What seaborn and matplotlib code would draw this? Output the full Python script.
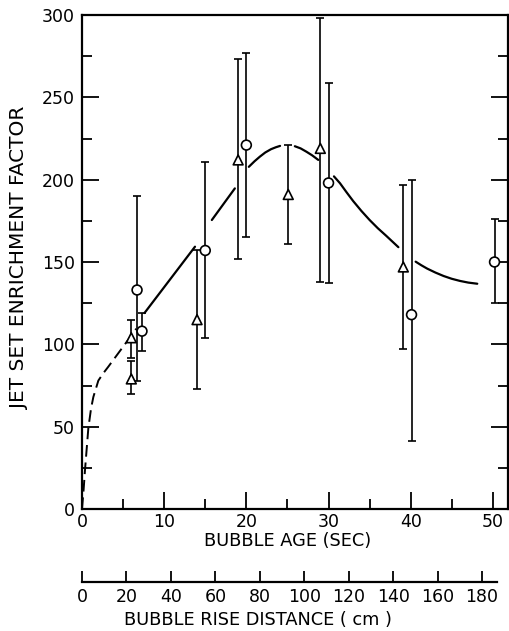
import numpy as np
import pandas as pd
import matplotlib
matplotlib.use("Agg")
import matplotlib.pyplot as plt
import seaborn as sns

# --- data ---
# triangles
tri_age = [6.0, 6.0, 14.0, 19.0, 25.1, 29.0, 39.1]
tri_val = [104, 79, 115, 212, 191, 219, 147]
tri_lo = [92, 70, 73, 152, 161, 138, 97]
tri_hi = [115, 90, 157, 273, 221, 298, 197]

# circles
circ_age = [6.7, 7.3, 15.0, 20.0, 30.0, 40.1, 50.2]
circ_val = [133, 108, 157, 221, 198, 118, 150]
circ_lo = [78, 96, 104, 165, 137, 41, 125]
circ_hi = [190, 119, 211, 277, 259, 200, 176]

# fitted curve, dashed start then solid pieces broken at the error bars
dash_age = [0.0, 0.2, 0.37, 0.77, 1.1, 1.38, 1.99, 2.6, 3.2, 4.4, 5.6, 6.6]
dash_val = [0, 12, 24, 49, 61, 68, 78, 82.5, 86.4, 94.5, 102.6, 109.5]
curve_pieces = [
    ([7.6, 13.75], [119, 159.3]),
    ([15.8, 18.6], [175.5, 194.7]),
    ([20.3, 21.0, 21.65, 22.3, 23.0, 23.6, 24.1], [207.8, 211.2, 214.0, 216.5, 218.5, 219.7, 220.5]),
    ([25.9, 26.6, 27.3, 28.0, 28.75], [220.3, 219.0, 217.0, 214.8, 212.0]),
    ([30.66, 31.4, 32.2, 33.0, 34.0, 35.0, 36.0, 37.0, 38.5],
     [202.0, 197.8, 192.3, 187.0, 181.0, 175.5, 170.5, 166.0, 159.0]),
    ([40.6, 41.3, 42.0, 43.0, 44.0, 45.0, 46.0, 47.0, 48.1],
     [150.2, 148.0, 146.0, 143.6, 141.5, 139.8, 138.5, 137.5, 136.8]),
]

age_ticks = [0, 10, 20, 30, 40, 50]
val_ticks = [0, 50, 100, 150, 200, 250, 300]
rise_ticks = [0, 20, 40, 60, 80, 100, 120, 140, 160, 180]

sns.set_style("ticks")
plt.rcParams['font.family'] = ['DejaVu Sans']
plt.rcParams['text.color'] = 'black'
plt.rcParams['xtick.color'] = 'black'
plt.rcParams['ytick.color'] = 'black'
plt.rcParams['axes.edgecolor'] = 'black'

W, H = 510, 631
fig = plt.figure(figsize=(W / 100, H / 100), dpi=100)
ax = fig.add_axes([82 / W, 1 - 509 / H, (508.5 - 82) / W, (509 - 15) / H])

# curve
sns.lineplot(x=dash_age, y=dash_val, ax=ax, color="black", lw=1.4,
             linestyle=(0, (6, 3)), sort=False)
for xs, ys in curve_pieces:
    sns.lineplot(x=xs, y=ys, ax=ax, color="black", lw=1.6, sort=False)

# error bars
for ages, vals, lo, hi in [(tri_age, tri_val, tri_lo, tri_hi),
                           (circ_age, circ_val, circ_lo, circ_hi)]:
    vals = np.array(vals)
    yerr = [vals - np.array(lo), np.array(hi) - vals]
    ax.errorbar(ages, vals, yerr=yerr, fmt="none", ecolor="black",
                elinewidth=1.2, capsize=2.8, capthick=1.2, zorder=3)

pts = pd.DataFrame({
    "age": tri_age + circ_age,
    "val": tri_val + circ_val,
    "kind": ["tri"] * len(tri_age) + ["circ"] * len(circ_age),
})
sns.scatterplot(data=pts, x="age", y="val", style="kind",
                markers={"tri": "^", "circ": "o"}, s=50, color="white",
                edgecolor="black", linewidth=1.2, legend=False, ax=ax, zorder=4)

ax.set_xlim(0, 51.9)
ax.set_ylim(0, 300)
ax.set_xticks(age_ticks)
ax.set_xticks([5, 15, 25, 35, 45], minor=True)
ax.set_yticks(val_ticks)
ax.set_yticks([25, 75, 125, 175, 225, 275], minor=True)
ax.set_xticklabels([str(t) for t in age_ticks], fontsize=12.5)
ax.set_yticklabels([str(t) for t in val_ticks], fontsize=12.5)
ax.tick_params(which="both", direction="in", width=1.3, color="black",
               labelcolor="black", left=True, right=True, bottom=True, top=False)
ax.tick_params(which="major", length=12, pad=3)
ax.tick_params(which="minor", length=7)
ax.tick_params(axis="y", which="major", pad=5)
for sp in ax.spines.values():
    sp.set_linewidth(1.6)
    sp.set_color("black")
ax.set_xlabel("")
ax.set_ylabel("")

fig.text(288 / W, 1 - 541 / H, "BUBBLE AGE (SEC)", ha="center", va="center",
         fontsize=12.8, color="black")
fig.text(20 / W, 1 - 258 / H, "JET SET ENRICHMENT FACTOR", ha="center",
         va="center", rotation=90, fontsize=14.5, color="black")

# secondary distance axis
ax2 = fig.add_axes([82 / W, 1 - 582 / H, (497 - 82) / W, 0.0005])
ax2.set_xlim(0, 186.75)
ax2.set_xticks(rise_ticks)
ax2.set_xticklabels([str(t) for t in rise_ticks], fontsize=12.5)
ax2.set_yticks([])
for name in ["top", "left", "right"]:
    ax2.spines[name].set_visible(False)
ax2.spines["bottom"].set_linewidth(1.6)
ax2.spines["bottom"].set_color("black")
ax2.tick_params(axis="x", direction="in", length=8, width=1.3, pad=4,
                color="black", labelcolor="black")
ax2.patch.set_visible(False)

fig.text(258 / W, 1 - 620 / H, "BUBBLE RISE DISTANCE ( cm )", ha="center",
         va="center", fontsize=12.8, color="black")

fig.savefig("out.png", dpi=100)
